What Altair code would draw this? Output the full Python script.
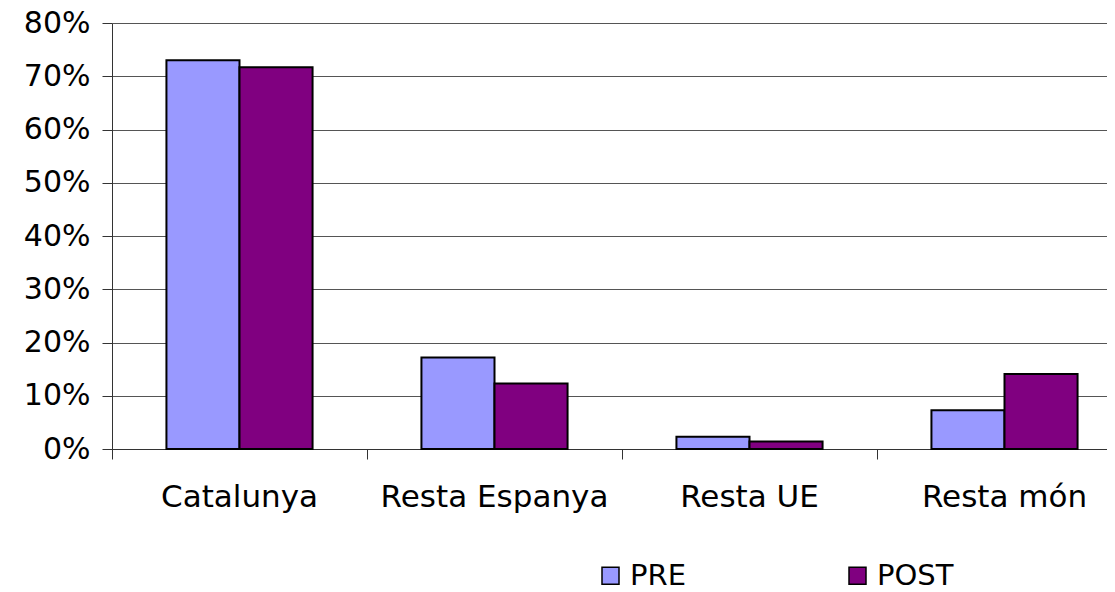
import altair as alt
import pandas as pd

categories = ["Catalunya", "Resta Espanya", "Resta UE", "Resta món"]
series = ["PRE", "POST"]
pre_values = [0.730, 0.172, 0.023, 0.073]
post_values = [0.717, 0.123, 0.014, 0.141]
colors = ["#9999FF", "#800080"]
y_ticks = [0, 0.1, 0.2, 0.3, 0.4, 0.5, 0.6, 0.7, 0.8]

rows = []
for c, p, q in zip(categories, pre_values, post_values):
    rows.append({"cat": c, "serie": "PRE", "val": p})
    rows.append({"cat": c, "serie": "POST", "val": q})
df = pd.DataFrame(rows)

FONT = "DejaVu Sans"

chart = (
    alt.Chart(df)
    .mark_bar(stroke="black", strokeWidth=2)
    .encode(
        x=alt.X(
            "cat:N",
            sort=categories,
            title=None,
            scale=alt.Scale(range=[0, 1020], paddingInner=0, paddingOuter=0),
            axis=alt.Axis(
                labelAngle=0,
                labelFont=FONT,
                labelFontSize=31,
                labelColor="black",
                labelPadding=23,
                labelLimit=0,
                tickSize=10,
                tickColor="#333",
                domainColor="#333",
                bandPosition=0,
                grid=False,
            ),
        ),
        xOffset=alt.XOffset(
            "serie:N",
            sort=series,
            scale=alt.Scale(paddingInner=0, paddingOuter=0.745),
        ),
        y=alt.Y(
            "val:Q",
            title=None,
            scale=alt.Scale(domain=[0, 0.8], nice=False),
            axis=alt.Axis(
                values=y_ticks,
                format=".0%",
                labelFont=FONT,
                labelFontSize=30,
                labelColor="black",
                labelPadding=12,
                tickSize=10,
                tickColor="#333",
                domainColor="#333",
                grid=True,
                gridColor="#555",
                gridOpacity=1,
            ),
        ),
        color=alt.Color(
            "serie:N",
            sort=series,
            scale=alt.Scale(domain=series, range=colors),
            legend=alt.Legend(
                title=None,
                orient="none",
                direction="horizontal",
                legendX=484,
                legendY=538,
                symbolType="square",
                symbolSize=289,
                symbolStrokeColor="black",
                symbolStrokeWidth=1.5,
                symbolOpacity=1,
                labelFont=FONT,
                labelFontSize=29,
                labelColor="black",
                labelOffset=5,
                columnPadding=157,
            ),
        ),
    )
    .properties(
        width=995,
        height=426,
        autosize=alt.AutoSizeParams(type="none"),
        padding={"left": 104, "top": 15, "right": 0, "bottom": 143},
    )
    .configure_view(stroke=None)
)

chart.save("out.html", embed_options={"renderer": "svg", "actions": False})
